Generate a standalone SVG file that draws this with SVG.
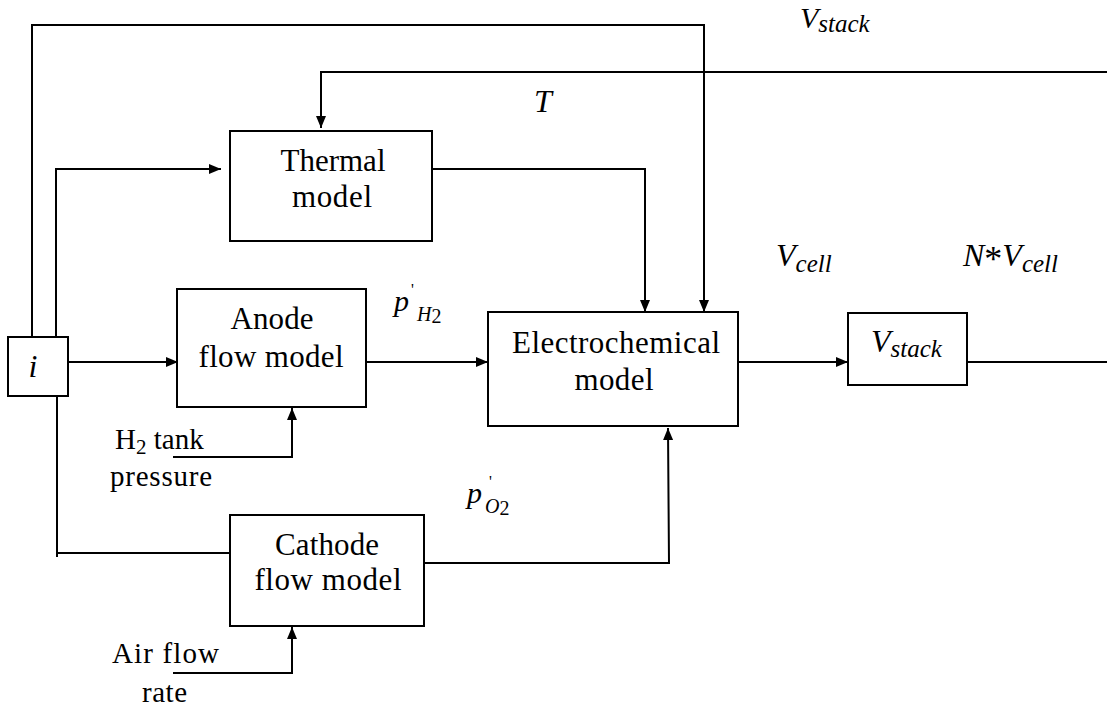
<svg xmlns="http://www.w3.org/2000/svg" width="1107" height="710" viewBox="0 0 1107 710">
<style>
.box{fill:#fff;stroke:#000;stroke-width:2}
.ln{fill:none;stroke:#000;stroke-width:2}
.t{font-family:"Liberation Serif","Times New Roman",serif;font-size:31px;fill:#000}
.t2{font-family:"Liberation Serif","Times New Roman",serif;font-size:29px;fill:#000}
.it{font-family:"Liberation Serif","Times New Roman",serif;font-style:italic;font-size:32px;fill:#000}
.it2{font-family:"Liberation Serif","Times New Roman",serif;font-style:italic;font-size:30px;fill:#000}
.sub{font-size:25px}
.up{font-style:normal}
.pp{font-family:"Liberation Serif","Times New Roman",serif;font-style:italic;font-size:30px;fill:#000}
.ps{font-family:"Liberation Serif","Times New Roman",serif;font-style:italic;font-size:20px;fill:#000}
.pr{font-family:"Liberation Serif","Times New Roman",serif;font-size:16px;fill:#000}
</style>
<defs>
<marker id="ah" markerUnits="userSpaceOnUse" markerWidth="12" markerHeight="10" refX="12" refY="5" orient="auto">
<path d="M0,0 L12,5 L0,10 Z" fill="#000"/>
</marker>
</defs>
<rect width="1107" height="710" fill="#fff"/>
<g id="connectors">
<polyline class="ln" points="32,337 32,25 704,25 704,312" marker-end="url(#ah)"/>
<polyline class="ln" points="1107,72 321,72 321,128" marker-end="url(#ah)"/>
<polyline class="ln" points="56,337 56,169 221,169" marker-end="url(#ah)"/>
<polyline class="ln" points="432,169 645,169 645,312" marker-end="url(#ah)"/>
<line class="ln" x1="68" y1="362" x2="178" y2="362" marker-end="url(#ah)"/>
<line class="ln" x1="366" y1="362" x2="488" y2="362" marker-end="url(#ah)"/>
<polyline class="ln" points="173,457 292,457 292,408" marker-end="url(#ah)"/>
<polyline class="ln" points="57,557 57,396 57,553 230,553"/>
<polyline class="ln" points="424,563 669,563 668,428" marker-end="url(#ah)"/>
<polyline class="ln" points="173,673 292,673 292,627" marker-end="url(#ah)"/>
<line class="ln" x1="738" y1="362" x2="848" y2="362" marker-end="url(#ah)"/>
<line class="ln" x1="967" y1="362" x2="1107" y2="362"/>
</g>
<g id="i">
<rect class="box" x="8" y="337" width="60" height="59"/>
<text class="it" x="33" y="377" text-anchor="middle">i</text>
</g>
<g id="thermal">
<rect class="box" x="230" y="131" width="202" height="110"/>
<text class="t" x="333" y="171" text-anchor="middle" textLength="105" lengthAdjust="spacing">Thermal</text>
<text class="t" x="332" y="207" text-anchor="middle" textLength="80" lengthAdjust="spacing">model</text>
</g>
<g id="anode">
<rect class="box" x="177" y="289" width="189" height="118"/>
<text class="t" x="272" y="329" text-anchor="middle" textLength="83" lengthAdjust="spacing">Anode</text>
<text class="t" x="271" y="367" text-anchor="middle" textLength="145" lengthAdjust="spacing">flow model</text>
</g>
<g id="electrochemical">
<rect class="box" x="488" y="312" width="250" height="114"/>
<text class="t" x="616" y="353" text-anchor="middle" textLength="208" lengthAdjust="spacing">Electrochemical</text>
<text class="t" x="614" y="390" text-anchor="middle" textLength="79" lengthAdjust="spacing">model</text>
</g>
<g id="vstack">
<rect class="box" x="848" y="313" width="119" height="72"/>
<text class="it" x="871" y="352">V<tspan class="sub" dy="5">stack</tspan></text>
</g>
<g id="cathode">
<rect class="box" x="230" y="515" width="194" height="111"/>
<text class="t" x="327" y="555" text-anchor="middle" textLength="104" lengthAdjust="spacing">Cathode</text>
<text class="t" x="328" y="590" text-anchor="middle" textLength="147" lengthAdjust="spacing">flow model</text>
</g>
<g id="labels">
<text class="t2" x="115" y="449">H<tspan font-size="21" dy="5">2</tspan><tspan dy="-5"> tank</tspan></text>
<text class="t2" x="110" y="486" textLength="102" lengthAdjust="spacing">pressure</text>
<text class="t2" x="112" y="663" textLength="107" lengthAdjust="spacing">Air flow</text>
<text class="t2" x="142" y="702" textLength="45" lengthAdjust="spacing">rate</text>
<text class="it2" x="800" y="28">V<tspan class="sub" dy="4">stack</tspan></text>
<text class="it" x="534" y="112">T</text>
<text class="it" x="776" y="266">V<tspan class="sub" dy="6">cell</tspan></text>
<text class="it" x="963" y="266">N<tspan class="up" font-size="36" dy="5">*</tspan><tspan dy="-5">V</tspan><tspan class="sub" dy="6">cell</tspan></text>
<text class="pp" x="394" y="311">p</text>
<text class="pr" x="411" y="295">'</text>
<text class="ps" x="417" y="321">H<tspan class="up" dy="2">2</tspan></text>
<text class="pp" x="467" y="503">p</text>
<text class="pr" x="489" y="487">'</text>
<text class="ps" x="485" y="513">O<tspan class="up" dy="2">2</tspan></text>
</g>
</svg>
